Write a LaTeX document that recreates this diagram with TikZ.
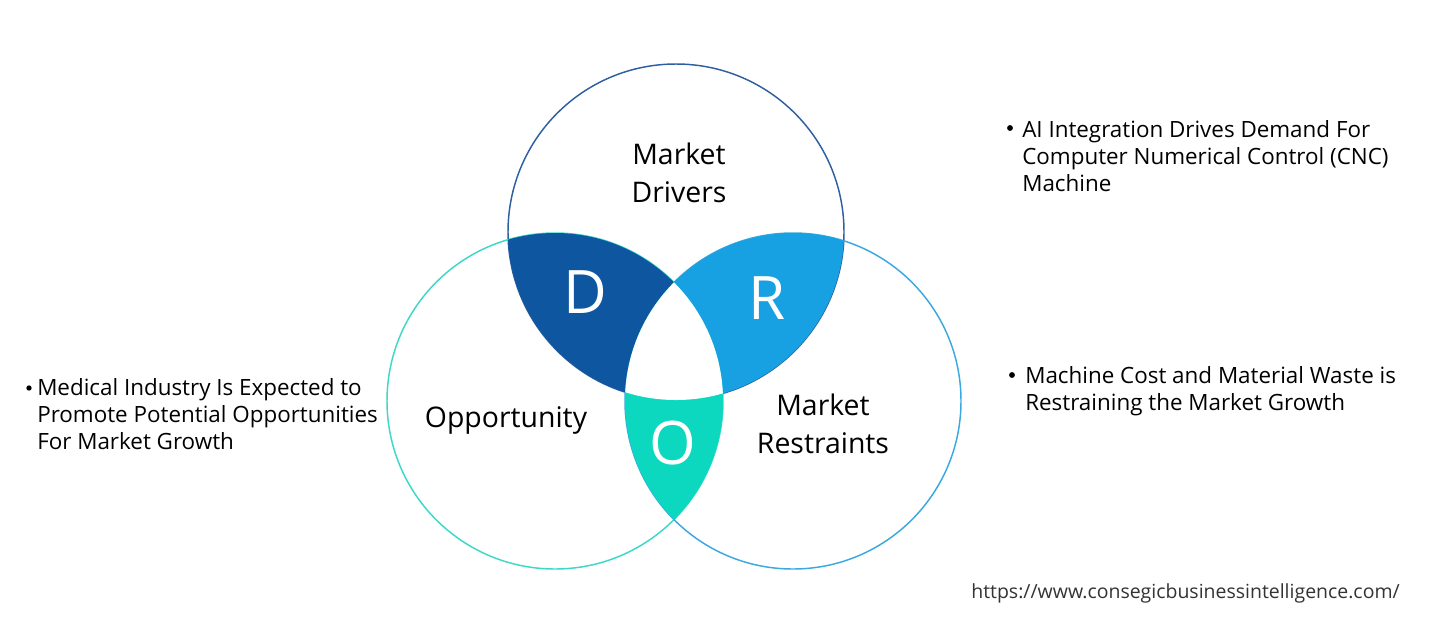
\documentclass[tikz,border=0pt]{standalone}
\usepackage{fontspec}
\setmainfont{Open Sans}
\newfontfamily\labelfont{Open Sans}
\usepackage{tikz}
\usepackage{xcolor}
\definecolor{drivers}{RGB}{14,87,160}
\definecolor{restraints}{RGB}{23,161,227}
\definecolor{opportunity}{RGB}{12,216,192}
\definecolor{topline}{RGB}{46,95,160}
\definecolor{leftline}{RGB}{60,216,200}
\definecolor{rightline}{RGB}{59,168,224}
\definecolor{urlgray}{RGB}{51,51,51}

\tikzset{
  circlabel/.style={font=\labelfont\fontsize{21.3}{28}\selectfont, align=center, inner sep=0pt},
  letter/.style={font=\labelfont\fontsize{45}{45}\selectfont, text=white, inner sep=0pt},
  bullettext/.style={font=\fontsize{16.8}{20.25}\selectfont, align=left, anchor=west, inner sep=0pt}
}

\begin{document}
\begin{tikzpicture}[x=0.75pt,y=-0.75pt]
    % Frame
    \useasboundingbox (0,0) rectangle (1453,633);
    \def\rad{126pt}
    \coordinate (top) at (676,232);
    \coordinate (left) at (555,401);
    \coordinate (right) at (793,401);

    % Circles
    \draw[topline, line width=1.1pt] (top) circle (\rad);
    \draw[leftline, line width=1.1pt] (left) circle (\rad);
    \draw[rightline, line width=1.1pt] (right) circle (\rad);

    % Overlaps
    \begin{scope}
        \clip (top) circle (\rad);
        \fill[drivers] (left) circle (\rad);
    \end{scope}
    \begin{scope}
        \clip (top) circle (\rad);
        \fill[restraints] (right) circle (\rad);
    \end{scope}
    \begin{scope}
        \clip (left) circle (\rad);
        \fill[opportunity] (right) circle (\rad);
    \end{scope}

    % Centre
    \begin{scope}
        \clip (top) circle (\rad);
        \clip (left) circle (\rad);
        \fill[white] (right) circle (\rad);
    \end{scope}

    % Labels
    \node[circlabel] (drv) at (679,173) {Market\\Drivers};
    \node[circlabel] (opp) at (506,420) {Opportunity};
    \node[circlabel] (res) at (823,424) {Market\\Restraints};
    \node[letter] (d) at (585,292) {D};
    \node[letter] (r) at (767,298) {R};
    \node[letter] (o) at (673,443) {O};

    % Bullets
    \fill[black] (29,388) circle (2pt);
    \node[bullettext] (opptext) at (37,414) {Medical Industry Is Expected to\\Promote Potential Opportunities\\For Market Growth};
    \fill[black] (1010,128) circle (2.2pt);
    \node[bullettext] (drvtext) at (1022,156) {AI Integration Drives Demand For\\Computer Numerical Control (CNC)\\Machine};
    \fill[black] (1012,375) circle (2.2pt);
    \node[bullettext] (restext) at (1025,391) {Machine Cost and Material Waste is\\Restraining the Market Growth};

    % Source
    \node[anchor=east, inner sep=0pt, text=urlgray, font=\fontsize{14.6}{16}\selectfont] (url) at (1400,593) {https://www.consegicbusinessintelligence.com/};
\end{tikzpicture}
\end{document}
